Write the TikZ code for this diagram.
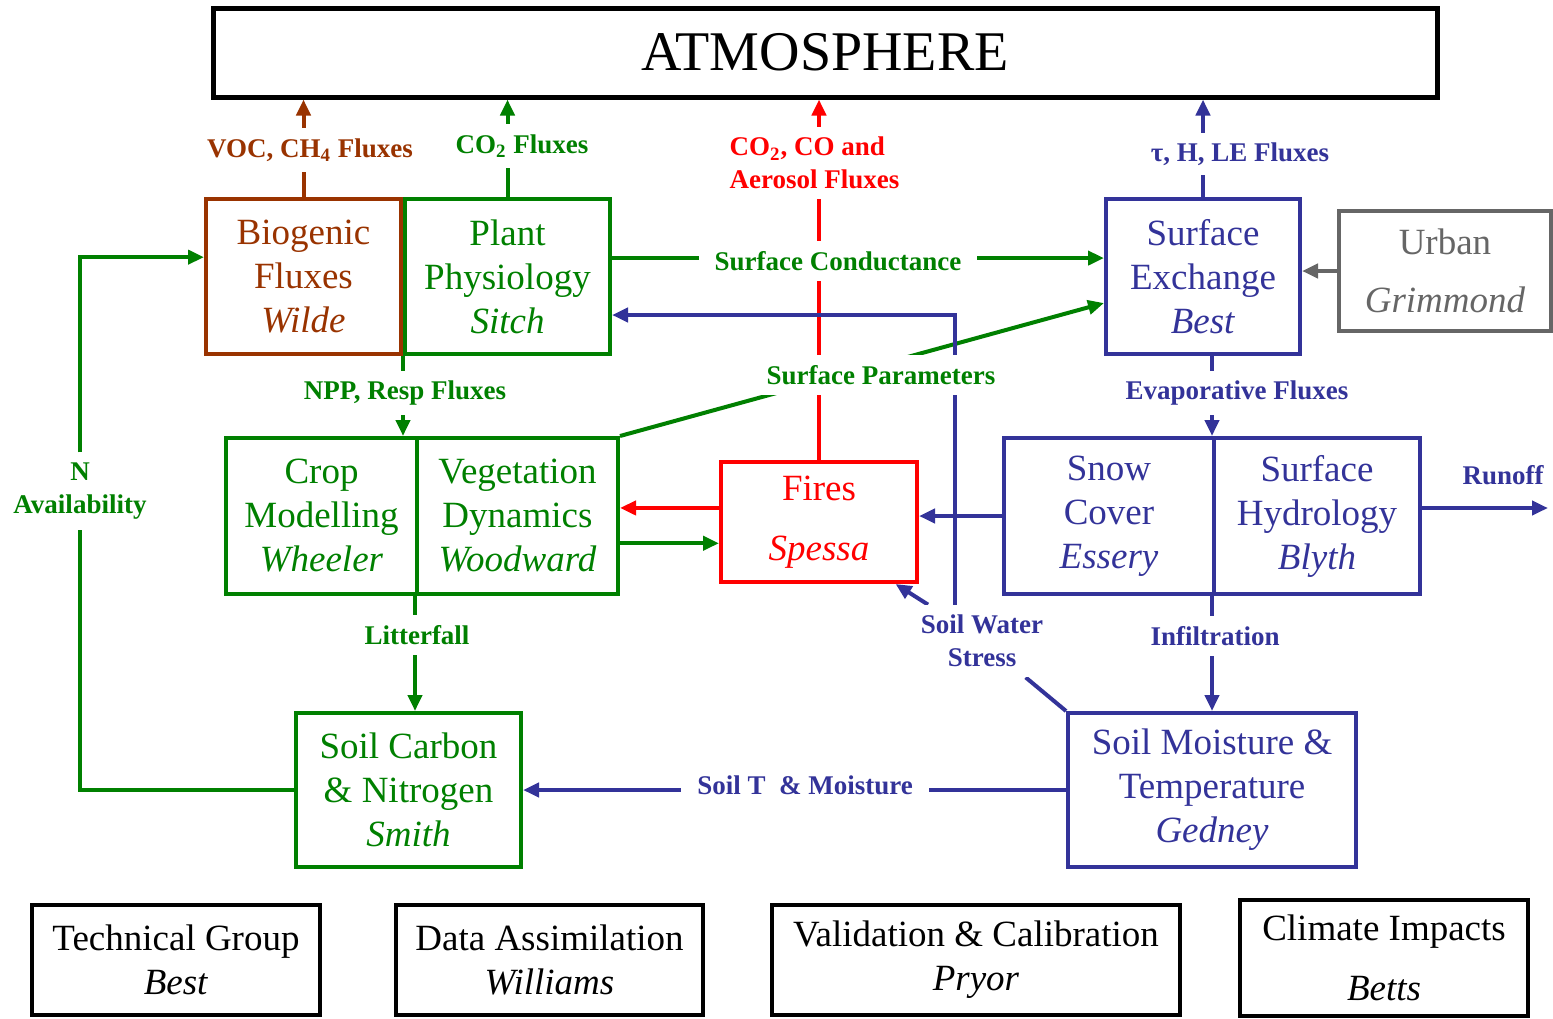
\documentclass[tikz,border=0pt]{standalone}
\usepackage{fontspec}
\setmainfont{Liberation Serif}
\usetikzlibrary{arrows.meta,backgrounds}

\definecolor{fxbrown}{RGB}{153,51,0}
\definecolor{fxgreen}{RGB}{0,128,0}
\definecolor{fxred}{RGB}{255,0,0}
\definecolor{fxblue}{RGB}{51,51,153}
\definecolor{fxgrey}{RGB}{102,102,102}

\newcommand{\boxfont}{\fontsize{18.5}{22}\selectfont}
\newcommand{\lblfont}{\fontsize{13.5}{16.5}\selectfont\bfseries}

\begin{document}
\begin{tikzpicture}[
  x=0.5pt, y=-0.5pt,
  >={Triangle[length=8pt,width=7pt]},
  modbox/.style={draw, line width=2pt, align=center, inner sep=0pt, font=\boxfont},
  lbl/.style={fill=white, text=#1, align=center, font=\lblfont, inner xsep=8pt, inner ysep=5pt},
  flux/.style={line width=2pt, ->},
  tie/.style={line width=2pt},
]
  \useasboundingbox (0,0) rectangle (1553,1018);

  % Atmosphere
  \node[modbox, line width=2.5pt, minimum width=612pt, minimum height=44.5pt,
        font=\fontsize{28}{30}\selectfont] (atm) at (825,52.5) {ATMOSPHERE};

  % Model components
  \node[modbox, fxbrown, minimum width=97.5pt, minimum height=77.5pt] (bio) at (303.5,276.5) {Biogenic\\Fluxes\\\textit{Wilde}};
  \node[modbox, fxgreen, minimum width=102.5pt, minimum height=77.5pt] (plant) at (507.5,276.5) {Plant\\Physiology\\\textit{Sitch}};
  \node[modbox, fxblue, minimum width=97pt, minimum height=77.5pt] (sx) at (1203,276.5) {Surface\\Exchange\\\textit{Best}};
  \node[modbox, fxgrey, minimum width=106pt, minimum height=60pt] (urban) at (1445,271) {Urban\\[7pt]\textit{Grimmond}};
  \node[modbox, fxgreen, minimum width=95.5pt, minimum height=78pt] (crop) at (321.5,516) {Crop\\Modelling\\\textit{Wheeler}};
  \node[modbox, fxgreen, minimum width=100.5pt, minimum height=78pt] (veg) at (517.5,516) {Vegetation\\Dynamics\\\textit{Woodward}};
  \node[modbox, fxred, minimum width=98pt, minimum height=60pt] (fire) at (819,522) {Fires\\[8pt]\textit{Spessa}};
  \node[modbox, fxblue, minimum width=105pt, minimum height=78pt] (snow) at (1109,516) {Snow\\Cover\\\textit{Essery}};
  \node[modbox, fxblue, minimum width=103pt, minimum height=78pt] (hydro) at (1317,516) {Surface\\Hydrology\\\textit{Blyth}};
  \node[modbox, fxgreen, minimum width=112.5pt, minimum height=77pt] (soilc) at (408.5,790) {Soil Carbon\\\& Nitrogen\\\textit{Smith}};
  \node[modbox, fxblue, minimum width=144pt, minimum height=77pt] (soilm) at (1212,790) {Soil Moisture \&\\Temperature\\\textit{Gedney}};

  % Cross-cutting groups
  \node[modbox, minimum width=144pt, minimum height=55pt] (tech) at (176,960) {Technical Group\\\textit{Best}};
  \node[modbox, minimum width=153.5pt, minimum height=55pt] (da) at (549.5,960) {Data Assimilation\\\textit{Williams}};
  \node[modbox, minimum width=204pt, minimum height=55pt] (valid) at (976,960) {Validation \& Calibration\\\textit{Pryor}};
  \node[modbox, minimum width=144pt, minimum height=58pt] (impact) at (1384,958) {Climate Impacts\\[8pt]\textit{Betts}};

  % Flux labels
  \node[lbl=fxbrown] (voc) at (310,150) {VOC, CH\textsubscript{4} Fluxes};
  \node[lbl=fxgreen] (co2f) at (522,146) {CO\textsubscript{2} Fluxes};
  \node[lbl=fxred, align=left] (co2co) at (814.5,163) {CO\textsubscript{2}, CO and\\Aerosol Fluxes};
  \node[lbl=fxblue] (tau) at (1240,154) {τ, H, LE Fluxes};
  \node[lbl=fxgreen] (cond) at (838,261) {Surface Conductance};
  \node[lbl=fxgreen] (spar) at (881,375) {Surface Parameters};
  \node[lbl=fxgreen] (npp) at (405,393) {NPP, Resp Fluxes};
  \node[lbl=fxblue] (evap) at (1237,393) {Evaporative Fluxes};
  \node[lbl=fxgreen] (nav) at (80,491) {N\\Availability};
  \node[lbl=fxblue] (runoff) at (1503,475) {Runoff};
  \node[lbl=fxgreen] (litter) at (417,635) {Litterfall};
  \node[lbl=fxblue] (sws) at (982,641) {Soil Water\\Stress};
  \node[lbl=fxblue] (infil) at (1215,636) {Infiltration};
  \node[lbl=fxblue] (stm) at (805,785) {Soil T \ \& Moisture};

  \coordinate (swc) at (955,315);
  \coordinate (runend) at (1548,508);

  \begin{pgfonlayer}{background}
    % Fluxes to the atmosphere
    \draw[flux, fxbrown] (bio.north) -- (bio.north |- atm.south);
    \draw[flux, fxgreen] (plant.north) -- (plant.north |- atm.south);
    \draw[flux, fxred] (fire.north) -- (fire.north |- atm.south);
    \draw[flux, fxblue] (sx.north) -- (sx.north |- atm.south);

    % Land surface links
    \draw[flux, fxgreen] (plant.10) -- (plant.10 -| sx.west);
    \draw[flux, fxgreen] (veg.north east) -- (sx.195);
    \draw[flux, fxgrey] (urban.west) -- (urban.west -| sx.east);
    \draw[flux, fxgreen] (plant.south west) -- (plant.south west |- veg.north);
    \draw[flux, fxblue] (hydro.north west |- sx.south) -- (hydro.north west);
    \draw[flux, fxred] (fire.172) -- (fire.172 -| veg.east);
    \draw[flux, fxgreen] (fire.192 -| veg.east) -- (fire.192);
    \draw[flux, fxblue] (snow.west) -- (snow.west -| fire.east);
    \draw[flux, fxblue] (hydro.east |- runend) -- (runend);

    % Soil links
    \draw[flux, fxgreen] (veg.south west) -- (veg.south west |- soilc.north);
    \draw[flux, fxblue] (hydro.south west) -- (hydro.south west |- soilm.north);
    \draw[flux, fxblue] (soilm.west) -- (soilm.west -| soilc.east);
    \draw[flux, fxgreen] (soilc.west) -| (nav) |- (bio.169);
    \draw[tie, fxblue] (soilm.north west) -- (sws);
    \draw[flux, fxblue] (sws.146) -- (fire.-39);
    \draw[flux, fxblue] (sws.north -| swc) -- (swc) -- (swc -| plant.east);
  \end{pgfonlayer}
\end{tikzpicture}
\end{document}
